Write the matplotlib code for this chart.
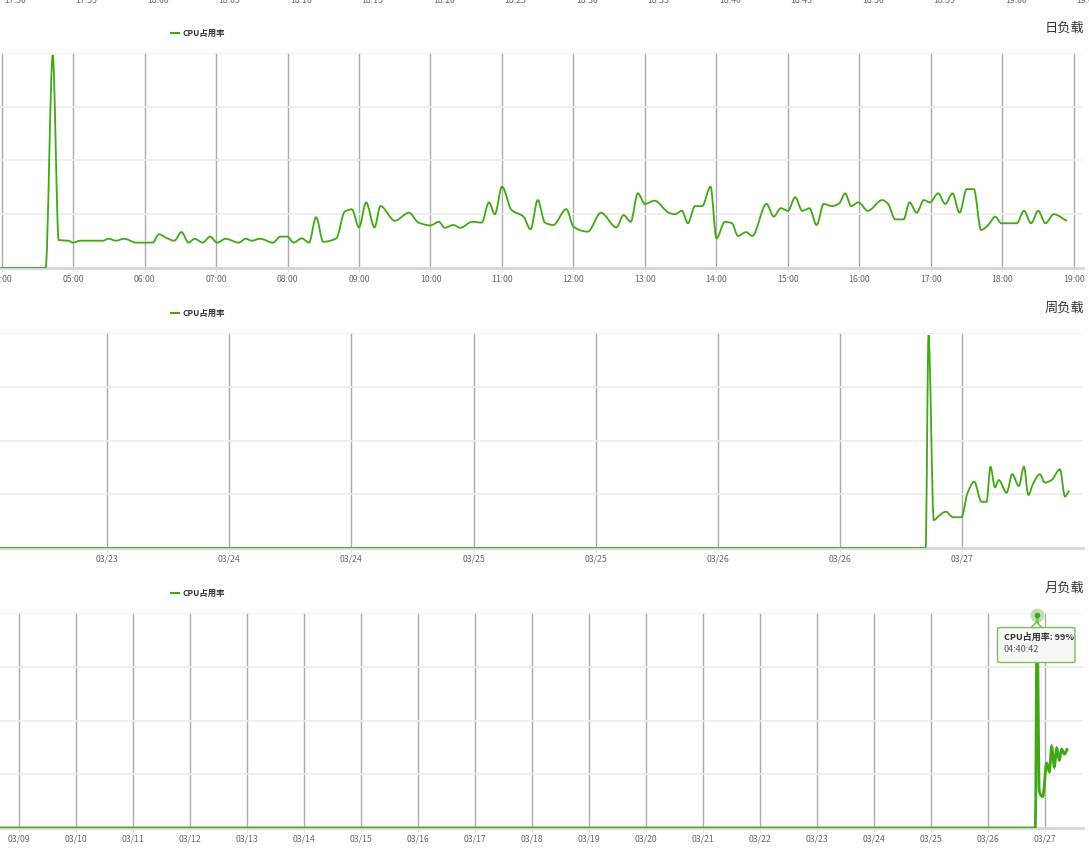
import datetime as dt
import numpy as np
import matplotlib
matplotlib.use('Agg')
import matplotlib.pyplot as plt
import matplotlib.dates as mdates
from matplotlib.path import Path
from matplotlib.patches import PathPatch, FancyBboxPatch, Polygon
from matplotlib.lines import Line2D

plt.rcParams['font.family'] = ['Noto Sans CJK SC', 'DejaVu Sans']

GREEN = '#41a815'
YEAR = '2023-'

# ---- daily load (03/27) ----
day_times = [
    '03:59', '04:37', '04:43', '04:48', '04:56', '05:00', '05:06', '05:25',
    '05:30', '05:36', '05:43', '05:53', '06:07', '06:12', '06:19', '06:25',
    '06:31', '06:37', '06:42', '06:49', '06:55', '07:01', '07:08', '07:19',
    '07:25', '07:30', '07:37', '07:48', '07:54', '08:00', '08:05', '08:12',
    '08:18', '08:24', '08:30', '08:41', '08:48', '08:54', '09:00', '09:06',
    '09:13', '09:18', '09:30', '09:42', '09:50', '10:00', '10:07', '10:12',
    '10:19', '10:25', '10:35', '10:43', '10:49', '10:54', '11:00', '11:08',
    '11:18', '11:24', '11:30', '11:36', '11:43', '11:54', '12:00', '12:12',
    '12:23', '12:36', '12:42', '12:48', '12:54', '13:00', '13:08', '13:20',
    '13:25', '13:31', '13:36', '13:42', '13:48', '13:55', '14:00', '14:07',
    '14:13', '14:18', '14:25', '14:30', '14:42', '14:48', '14:54', '15:00',
    '15:06', '15:12', '15:18', '15:24', '15:30', '15:37', '15:43', '15:48',
    '15:53', '15:59', '16:07', '16:19', '16:24', '16:30', '16:37', '16:42',
    '16:48', '16:54', '16:59', '17:06', '17:12', '17:18', '17:24', '17:30',
    '17:36', '17:42', '17:48', '17:54', '17:59', '18:12', '18:18', '18:24',
    '18:30', '18:36', '18:43', '18:54',
]
day_cpu = [
    0, 0, 99, 13, 12.7, 11.8, 12.7, 12.7,
    13.6, 12.7, 13.6, 11.8, 11.8, 15.7, 13.8, 12.7,
    16.7, 11.8, 13.6, 11.8, 14.6, 11.8, 13.6, 11.8,
    13.6, 12.7, 13.6, 11.8, 14.6, 14.6, 11.8, 13.8,
    11.8, 23.6, 12.2, 13.8, 26.2, 27.3, 18.9, 30.5,
    18.9, 28.8, 22, 25.7, 21.1, 19.8, 21.5, 18.7,
    20, 18.7, 21.5, 21.1, 30.5, 25, 37.8, 27,
    23.9, 18, 31.6, 21.1, 20, 27.4, 19.2, 16.9,
    25.7, 18.9, 24.6, 21.5, 34.7, 29.8, 31.3, 25.7,
    25, 26.6, 20.8, 28.8, 28.8, 37.8, 13.8, 21.5,
    20.8, 14.9, 16.7, 14.9, 29.8, 23.9, 27.8, 26.6,
    32.9, 26.6, 27.8, 20, 29.8, 28.8, 30.1, 34.7,
    28.8, 30.5, 26.6, 31.6, 29.8, 22.6, 22.6, 30.5,
    25.7, 31.6, 30.5, 34.7, 29.8, 34.7, 25.7, 36.7,
    36.7, 17.7, 20, 23.9, 20.8, 20.8, 26.6, 20.8,
    26.6, 20.8, 25, 21.9,
]

# ---- weekly load ----
week_times = [
    '03-23 09:30', '03-27 04:23', '03-27 04:40', '03-27 05:11', '03-27 05:46',
    '03-27 06:22', '03-27 07:05', '03-27 07:54', '03-27 08:29', '03-27 09:09',
    '03-27 09:52', '03-27 10:22', '03-27 10:45', '03-27 11:11', '03-27 11:34',
    '03-27 12:20', '03-27 12:53', '03-27 13:32', '03-27 14:02', '03-27 14:28',
    '03-27 14:57', '03-27 15:36', '03-27 16:05', '03-27 16:45', '03-27 17:34',
    '03-27 18:04', '03-27 18:28',
]
week_cpu = [
    0, 0, 99, 13, 15.3,
    16.9, 14.3, 14.3, 25.4, 30.8,
    21.5, 21.5, 37.8, 28.2, 31.6,
    25.7, 34.3, 28.8, 37.8, 24.7,
    30.1, 34.3, 30.4, 31.6, 36.6,
    23.9, 26.7,
]

# ---- monthly load ----
month_times = [
    '03-09 00:00', '03-27 03:55', '03-27 04:40', '03-27 05:36', '03-27 07:02',
    '03-27 08:43', '03-27 09:49', '03-27 10:49', '03-27 11:55', '03-27 12:56',
    '03-27 14:01', '03-27 15:02', '03-27 16:08', '03-27 17:33',
]
month_cpu = [0, 0, 99, 17, 14.6, 30.1, 26.2, 37.8, 28.5, 37.1, 31.6, 36.6, 34.4, 37.1]

prev_labels = ['17:50', '17:55', '18:00', '18:05', '18:10', '18:15', '18:20', '18:25',
               '18:30', '18:35', '18:40', '18:45', '18:50', '18:55', '19:00', '19:05']

legend_text = 'CPU占用率'
titles = ['日负载', '周负载', '月负载']


def to_dt(s, prefix):
    return dt.datetime.strptime(prefix + s, '%Y-%m-%d %H:%M')


def smooth_path(xs, ys):
    # monotone cubic bezier through the points (like echarts smooth lines)
    x = np.asarray(xs, float)
    y = np.asarray(ys, float)
    h = np.diff(x)
    d = np.diff(y) / h
    m = np.zeros_like(x)
    m[0], m[-1] = d[0], d[-1]
    for i in range(1, len(x) - 1):
        if d[i - 1] * d[i] > 0:
            w1 = 2 * h[i] + h[i - 1]
            w2 = h[i] + 2 * h[i - 1]
            m[i] = (w1 + w2) / (w1 / d[i - 1] + w2 / d[i])
    verts = [(x[0], y[0])]
    codes = [Path.MOVETO]
    for i in range(len(x) - 1):
        verts += [(x[i] + h[i] / 3, y[i] + m[i] * h[i] / 3),
                  (x[i + 1] - h[i] / 3, y[i + 1] - m[i + 1] * h[i] / 3),
                  (x[i + 1], y[i + 1])]
        codes += [Path.CURVE4] * 3
    return Path(verts, codes)


def style(ax, xmin, xmax, locator, fmt, title):
    ax.set_xlim(xmin, xmax)
    ax.set_ylim(0, 100)
    for s in ['top', 'right', 'left']:
        ax.spines[s].set_visible(False)
    ax.spines['bottom'].set_color('#d3d6dc')
    ax.spines['bottom'].set_linewidth(2)
    ax.set_yticks([25, 50, 75, 100])
    ax.tick_params(axis='y', length=0, labelleft=False)
    ax.yaxis.grid(True, color='#ececec', lw=1.2)
    ax.xaxis.set_major_locator(locator)
    ax.xaxis.set_major_formatter(mdates.DateFormatter(fmt))
    ax.xaxis.grid(True, color='#ababab', lw=1)
    ax.tick_params(axis='x', length=3, color='#dde3ee', labelsize=6.3,
                   labelcolor='#666666', pad=1.8)
    ax.set_axisbelow(True)
    handle = Line2D([], [], color=GREEN, lw=1.5)
    ax.legend([handle], [legend_text], loc='center left', bbox_to_anchor=(0.158, 1.093),
              frameon=False, handlelength=1.0, handletextpad=0.35, borderpad=0,
              borderaxespad=0, prop={'size': 6, 'weight': 'bold'}, labelcolor='#333333')
    ax.text(1.001, 1.116, title, transform=ax.transAxes, ha='right', va='center',
            fontsize=9.5, color='#333333')


fig = plt.figure(figsize=(10.89, 8.51), dpi=100)
W, H = 1089, 851
aw, ah = 1083 / W, 215 / H
ax1 = fig.add_axes([0, 1 - 268 / H, aw, ah])
ax2 = fig.add_axes([0, 1 - 548 / H, aw, ah])
ax3 = fig.add_axes([0, 1 - 828 / H, aw, ah])

# remnants of the chart above (cut by the page edge)
for i, lab in enumerate(prev_labels):
    fig.text((15 + 71.5 * i) / W, 1 - 3.0 / H, lab, ha='center', va='baseline',
             fontsize=6.3, color='#666666')

# daily
dx = mdates.date2num([to_dt(t, YEAR + '03-27 ') for t in day_times])
ax1.add_patch(PathPatch(smooth_path(dx, day_cpu), fill=False, ec=GREEN, lw=1.3, zorder=3))
style(ax1, dt.datetime(2023, 3, 27, 3, 58, 44), dt.datetime(2023, 3, 27, 19, 7, 34),
      mdates.HourLocator(), '%H:%M', titles[0])

# weekly
wx = mdates.date2num([to_dt(t, YEAR) for t in week_times])
ax2.add_patch(PathPatch(smooth_path(wx, week_cpu), fill=False, ec=GREEN, lw=1.3, zorder=3))
style(ax2, dt.datetime(2023, 3, 23, 9, 30), dt.datetime(2023, 3, 27, 19, 50),
      mdates.HourLocator(byhour=[8, 20]), '%m/%d', titles[1])

# monthly
mx = mdates.date2num([to_dt(t, YEAR) for t in month_times])
ax3.add_patch(PathPatch(smooth_path(mx, month_cpu), fill=False, ec=GREEN, lw=2.0, zorder=3))
style(ax3, dt.datetime(2023, 3, 9, 0, 0), dt.datetime(2023, 3, 28, 0, 0),
      mdates.HourLocator(byhour=[8]), '%m/%d', titles[2])

# hover tooltip on the monthly peak
ipk = int(np.argmax(month_cpu))
ax3.plot([mx[ipk]], [month_cpu[ipk]], 'o', ms=10, color='#9fd58a', alpha=0.7,
         mec='none', zorder=4, clip_on=False)
ax3.plot([mx[ipk]], [month_cpu[ipk]], 'o', ms=3, color=GREEN, zorder=5, clip_on=False)
x0, x1 = 997.5 / 1083, 1075 / 1083
y1, y0 = (828 - 627.5) / 215, (828 - 662.5) / 215
ax3.add_patch(FancyBboxPatch((x0, y0), x1 - x0, y1 - y0,
                             boxstyle='round,pad=0,rounding_size=0.004',
                             transform=ax3.transAxes, fc='#f6f8f4', ec='#78c05a',
                             lw=1, zorder=6, clip_on=False))
px = 1036.5 / 1083
ax3.add_patch(Polygon([(px - 0.005, y1), (px, y1 + 0.025), (px + 0.005, y1)], closed=True,
                      transform=ax3.transAxes, fc='#f6f8f4', ec='#78c05a', lw=1,
                      zorder=7, clip_on=False))
ax3.text(1004 / 1083, (828 - 637.5) / 215, f'{legend_text}: {month_cpu[ipk]:.0f}%',
         transform=ax3.transAxes, ha='left', va='center', fontsize=6.5,
         fontweight='bold', color='#333333', zorder=8)
ax3.text(1004 / 1083, (828 - 649) / 215, '04:40:42', transform=ax3.transAxes,
         ha='left', va='center', fontsize=6.5, color='#555555', zorder=8)

fig.savefig('out.png', dpi=100)
